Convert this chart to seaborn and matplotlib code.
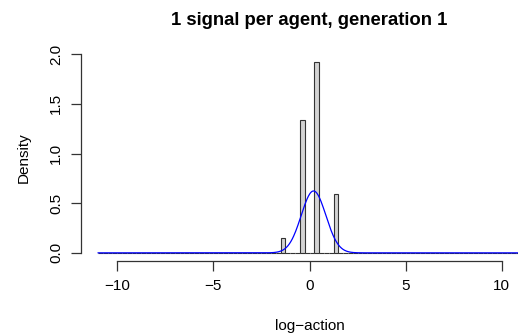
import numpy as np
import pandas as pd
import matplotlib
matplotlib.use("Agg")
import matplotlib.pyplot as plt
import seaborn as sns

# histogram data: bin centres with counts (bin width 0.25, range -11..11)
bin_centres = [-1.375, -0.375, 0.375, 1.375]
bin_counts = [1, 9, 13, 4]
bin_lo, bin_hi, bin_width = -11.0, 11.0, 0.25

# normal fit drawn on top
fit_mean = 0.21
fit_sd = 0.64

title = "1 signal per agent, generation 1"
x_label = "log\u2212action"
y_label = "Density"
x_ticks = [-10, -5, 0, 5, 10]
y_ticks = [0.0, 0.5, 1.0, 1.5, 2.0]

sns.set_style("white")
plt.rcParams['font.family'] = ['Liberation Sans', 'DejaVu Sans']
plt.rcParams['axes.unicode_minus'] = True
plt.rcParams['text.color'] = 'black'
plt.rcParams['axes.labelcolor'] = 'black'
plt.rcParams['xtick.color'] = 'black'
plt.rcParams['ytick.color'] = 'black'

fig = plt.figure(figsize=(5.18, 3.36), dpi=100)
ax = fig.add_axes([81 / 518, 75.5 / 336, 457 / 518, 206.5 / 336])

df = pd.DataFrame({"x": bin_centres, "n": bin_counts})
sns.histplot(data=df, x="x", weights="n", binwidth=bin_width, binrange=(bin_lo, bin_hi),
             stat="density", color="#d3d3d3", alpha=1, edgecolor="#333333",
             linewidth=0.8, ax=ax)

xs = np.linspace(bin_lo, bin_hi, 600)
dens = np.exp(-0.5 * ((xs - fit_mean) / fit_sd) ** 2) / (fit_sd * np.sqrt(2 * np.pi))
sns.lineplot(x=xs, y=dens, color="blue", linewidth=0.9, ax=ax)

ax.set_xlim(-11.88, 11.88)
ax.set_ylim(-0.077, 2.003)
ax.set_xticks(x_ticks)
ax.set_xticklabels([str(t).replace("-", "\u2212") for t in x_ticks])
ax.set_yticks(y_ticks)
ax.set_yticklabels([f"{t:.1f}" for t in y_ticks], rotation=90, va="center")

for s in ["top", "right"]:
    ax.spines[s].set_visible(False)
ax.spines["left"].set_bounds(0, 2)
ax.spines["bottom"].set_bounds(-10, 10)
for s in ["left", "bottom"]:
    ax.spines[s].set_color("#333333")
    ax.spines[s].set_linewidth(0.9)
ax.tick_params(axis="both", direction="out", length=7, width=0.9, color="#333333",
               labelsize=11, left=True, bottom=True, pad=6)

ax.set_xlabel(x_label, fontsize=11, labelpad=19)
ax.set_ylabel(y_label, fontsize=11, labelpad=13)
ax.set_title(title, fontsize=13.3, fontweight="bold", pad=21)

fig.savefig("out.png", dpi=100)
